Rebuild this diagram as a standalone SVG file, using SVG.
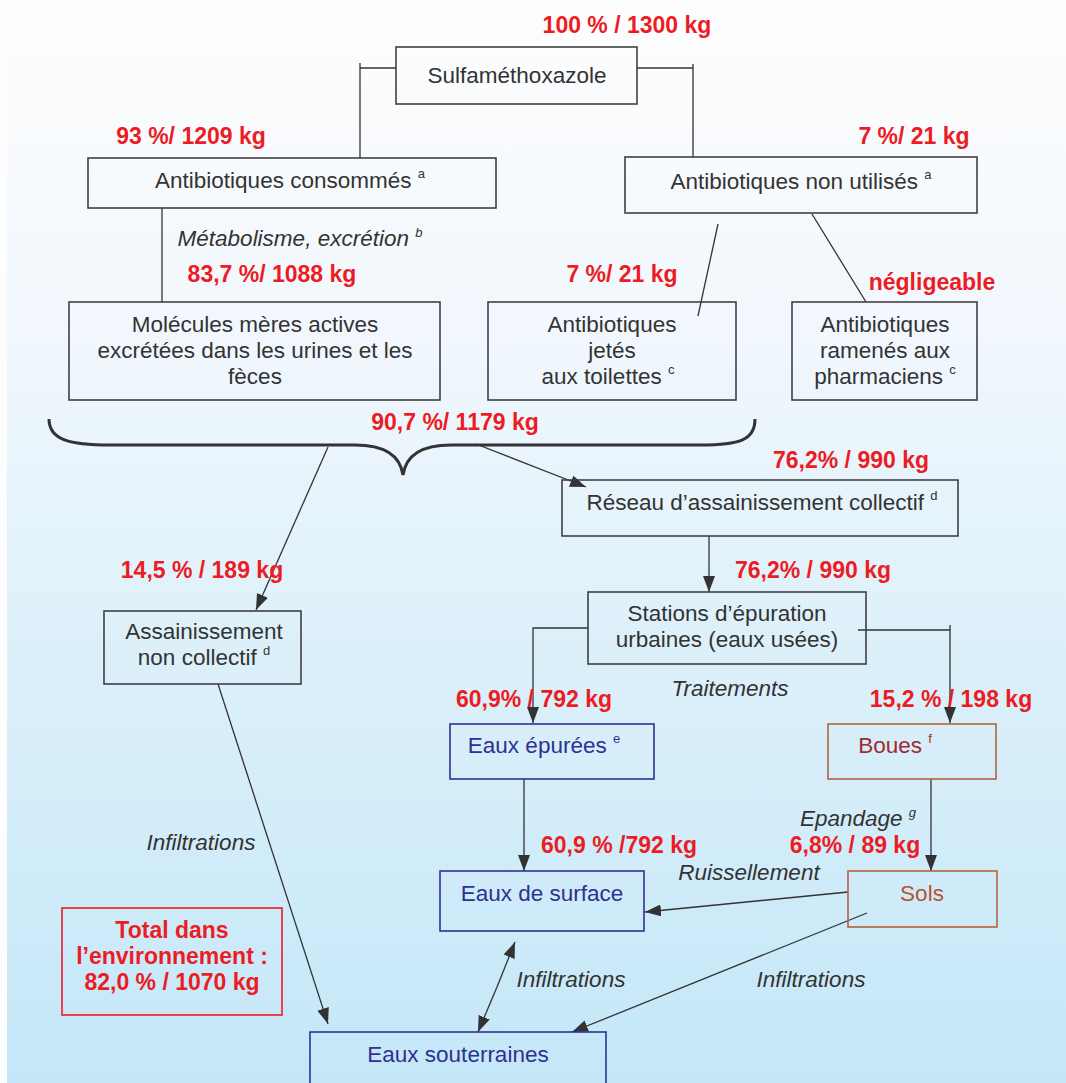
<svg xmlns="http://www.w3.org/2000/svg" width="1066" height="1083" viewBox="0 0 1066 1083">
  <defs>
    <linearGradient id="bg" x1="0" y1="0" x2="0" y2="1">
      <stop offset="0" stop-color="#fdfdfd"/>
      <stop offset="0.3" stop-color="#f1f7fd"/>
      <stop offset="0.6" stop-color="#dcf0fa"/>
      <stop offset="1" stop-color="#c4e7f8"/>
    </linearGradient>
    <marker id="arr" viewBox="0 0 16 12" refX="16" refY="6" markerWidth="16" markerHeight="12" markerUnits="userSpaceOnUse" orient="auto-start-reverse">
      <path d="M0,0 L16,6 L0,12 Z" fill="#333"/>
    </marker>
    <style>
      .box { fill: none; stroke: #404040; stroke-width: 1.6; }
      .blue { fill: none; stroke: #2e3192; stroke-width: 1.6; }
      .brown { fill: none; stroke: #b5633d; stroke-width: 1.6; }
      .redbox { fill: none; stroke: #ec1c24; stroke-width: 1.6; }
      .t { font-family: "Liberation Sans", Arial, sans-serif; font-size: 22.5px; fill: #333; text-anchor: middle; }
      .tb { fill: #2e3192; }
      .tr { fill: #9e2b2f; }
      .ts { fill: #b5562f; }
      .it { font-family: "Liberation Sans", Arial, sans-serif; font-size: 22.5px; font-style: italic; fill: #333; text-anchor: middle; }
      .num { font-family: "Liberation Sans", Arial, sans-serif; font-size: 23px; font-weight: bold; fill: #ec1c24; text-anchor: middle; }
      .sup { font-size: 13px; }
      .ln { fill: none; stroke: #333; stroke-width: 1.3; }
      .arrow { fill: none; stroke: #333; stroke-width: 1.3; marker-end: url(#arr); }
    </style>
  </defs>

  <!-- background -->
  <rect x="0" y="0" width="1066" height="1083" fill="#fdfdfd"/>
  <rect x="7" y="18" width="1059" height="1065" fill="url(#bg)"/>

  <!-- connectors -->
  <g id="connectors">
    <path class="ln" d="M396,68 H360 V158 M360,63 V68"/>
    <path class="ln" d="M637,68 H693 V157 M693,64 V68"/>
    <path class="ln" d="M162,208 V302"/>
    <path class="ln" d="M718,224 L698,316"/>
    <path class="ln" d="M812,214 L866,302"/>
    <path d="M49,419 C49,440 70,445 110,445 L355,445 C385,445 400,455 403,475 C406,455 421,445 451,445 L700,445 C740,445 755,440 755,419" fill="none" stroke="#333" stroke-width="3"/>
    <path class="arrow" d="M328,447 L256,610"/>
    <path class="arrow" d="M476,444 L586,487"/>
    <path class="arrow" d="M709,536 V592"/>
    <path class="arrow" d="M588,628 H533 V723"/>
    <path class="arrow" d="M858,630 H950 V723"/>
    <path class="ln" d="M950,625 V630"/>
    <path class="arrow" d="M524,779 V871"/>
    <path class="arrow" d="M931,779 V871"/>
    <path class="arrow" d="M848,892 L645,912"/>
    <path class="arrow" d="M867,913 L572,1032"/>
    <path class="arrow" d="M218,684 L328,1024"/>
    <path class="arrow" d="M497,987 L478,1032"/>
    <path class="arrow" d="M497,987 L515,942"/>
  </g>

  <g id="sulfamethoxazole">
    <rect class="box" x="396" y="47" width="241" height="57"/>
    <text class="t" x="517" y="83">Sulfaméthoxazole</text>
  </g>
  <text class="num" x="627" y="33">100 % / 1300 kg</text>

  <g id="consommes">
    <rect class="box" x="88" y="158" width="408" height="50"/>
    <text class="t" x="290" y="188">Antibiotiques consommés <tspan class="sup" dy="-10">a</tspan></text>
  </g>
  <text class="num" x="191" y="144">93 %/ 1209 kg</text>

  <g id="non-utilises">
    <rect class="box" x="625" y="157" width="352" height="56"/>
    <text class="t" x="801" y="189">Antibiotiques non utilisés <tspan class="sup" dy="-10">a</tspan></text>
  </g>
  <text class="num" x="914" y="144">7 %/ 21 kg</text>

  <text class="it" x="300" y="246">Métabolisme, excrétion <tspan class="sup" dy="-9">b</tspan></text>
  <text class="num" x="272" y="282">83,7 %/ 1088 kg</text>
  <text class="num" x="622" y="282">7 %/ 21 kg</text>
  <text class="num" x="932" y="290">négligeable</text>

  <g id="molecules">
    <rect class="box" x="69" y="302" width="371" height="98"/>
    <text class="t" x="255" y="332">Molécules mères actives</text>
    <text class="t" x="255" y="358">excrétées dans les urines et les</text>
    <text class="t" x="255" y="384">fèces</text>
  </g>

  <g id="jetes">
    <rect class="box" x="488" y="302" width="248" height="98"/>
    <text class="t" x="612" y="332">Antibiotiques</text>
    <text class="t" x="612" y="358">jetés</text>
    <text class="t" x="608" y="384">aux toilettes <tspan class="sup" dy="-10">c</tspan></text>
  </g>

  <g id="pharmaciens">
    <rect class="box" x="792" y="302" width="185" height="98"/>
    <text class="t" x="885" y="332">Antibiotiques</text>
    <text class="t" x="885" y="358">ramenés aux</text>
    <text class="t" x="885" y="384">pharmaciens <tspan class="sup" dy="-10">c</tspan></text>
  </g>

  <text class="num" x="455" y="430">90,7 %/ 1179 kg</text>
  <text class="num" x="851" y="468">76,2% / 990 kg</text>

  <g id="reseau">
    <rect class="box" x="562" y="480" width="396" height="56"/>
    <text class="t" x="762" y="510">Réseau d’assainissement collectif <tspan class="sup" dy="-10">d</tspan></text>
  </g>

  <text class="num" x="813" y="578">76,2% / 990 kg</text>
  <text class="num" x="202" y="578">14,5 % / 189 kg</text>

  <g id="stations">
    <rect class="box" x="588" y="592" width="278" height="72"/>
    <text class="t" x="727" y="621">Stations d’épuration</text>
    <text class="t" x="727" y="647">urbaines (eaux usées)</text>
  </g>

  <g id="non-collectif">
    <rect class="box" x="104" y="611" width="197" height="73"/>
    <text class="t" x="204" y="639">Assainissement</text>
    <text class="t" x="204" y="665">non collectif <tspan class="sup" dy="-10">d</tspan></text>
  </g>

  <text class="it" x="730" y="696">Traitements</text>
  <text class="num" x="534" y="707">60,9% / 792 kg</text>
  <text class="num" x="951" y="707">15,2 % / 198 kg</text>

  <g id="eaux-epurees">
    <rect class="blue" x="450" y="724" width="204" height="55"/>
    <text class="t tb" x="544" y="753">Eaux épurées <tspan class="sup" dy="-10">e</tspan></text>
  </g>

  <g id="boues">
    <rect class="brown" x="828" y="724" width="168" height="55"/>
    <text class="t tr" x="895" y="753">Boues <tspan class="sup" dy="-10">f</tspan></text>
  </g>

  <text class="it" x="201" y="850">Infiltrations</text>
  <text class="it" x="858" y="826">Epandage <tspan class="sup" dy="-9">g</tspan></text>
  <text class="num" x="619" y="853">60,9 % /792 kg</text>
  <text class="num" x="855" y="853">6,8% / 89 kg</text>
  <text class="it" x="749" y="880">Ruissellement</text>

  <g id="eaux-surface">
    <rect class="blue" x="440" y="871" width="204" height="60"/>
    <text class="t tb" x="542" y="901">Eaux de surface</text>
  </g>

  <g id="sols">
    <rect class="brown" x="848" y="871" width="149" height="56"/>
    <text class="t ts" x="922" y="901">Sols</text>
  </g>

  <g id="total">
    <rect class="redbox" x="62" y="908" width="220" height="107"/>
    <text class="num" x="172" y="938">Total dans</text>
    <text class="num" x="172" y="964">l’environnement :</text>
    <text class="num" x="172" y="990">82,0 % / 1070 kg</text>
  </g>

  <text class="it" x="571" y="987">Infiltrations</text>
  <text class="it" x="811" y="987">Infiltrations</text>

  <g id="eaux-souterraines">
    <rect class="blue" x="310" y="1032" width="296" height="60"/>
    <text class="t tb" x="458" y="1062">Eaux souterraines</text>
  </g>
</svg>
